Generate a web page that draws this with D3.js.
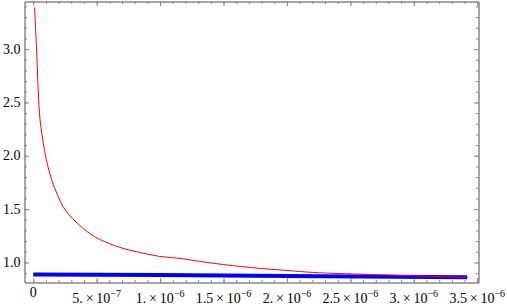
<!DOCTYPE html>
<html>
<head>
<meta charset="utf-8">
<script src="https://cdn.jsdelivr.net/npm/d3@7"></script>
<style>
  body { margin: 0; background: #fff; }
</style>
</head>
<body>
<div id="chart"></div>
<script>
var width = 507;
var height = 308;

// red curve (x, y)
var redX = [1.0e-8, 2.6e-8, 3.9e-8, 5.4e-8, 8.9e-8, 1.13e-7, 1.47e-7, 1.92e-7, 2.53e-7, 3.66e-7,
            4.45e-7, 5.24e-7, 6.82e-7, 8.4e-7, 9.98e-7, 1.157e-6, 1.31e-6, 1.50e-6, 1.79e-6,
            2.0e-6, 2.21e-6, 2.63e-6, 3.43e-6];
var redY = [3.39, 3.0, 2.615, 2.333, 2.05, 1.91, 1.77, 1.63, 1.49, 1.347,
            1.272, 1.216, 1.141, 1.094, 1.056, 1.038, 1.01, 0.98, 0.944,
            0.925, 0.906, 0.888, 0.86];

// blue line (x, y)
var blueX = [0, 1.0e-6, 2.0e-6, 3.42e-6];
var blueY = [0.888, 0.882, 0.874, 0.862];

var xTicks = [0, 5e-7, 1e-6, 1.5e-6, 2e-6, 2.5e-6, 3e-6, 3.5e-6];
var xTickMant = ["0", "5.", "1.", "1.5", "2.", "2.5", "3.", "3.5"];
var xTickExp = ["", "\u22127", "\u22126", "\u22126", "\u22126", "\u22126", "\u22126", "\u22126"];
var yTicks = [1.0, 1.5, 2.0, 2.5, 3.0];
var yTickLabels = ["1.0", "1.5", "2.0", "2.5", "3.0"];

var frameL = 24.5, frameR = 478.5, frameT = 1.5, frameB = 282.5;
var serif = "'Liberation Serif', 'Times New Roman', 'DejaVu Serif', serif";

var x = d3.scaleLinear().domain([-6.9e-8, 3.51e-6]).range([frameL, frameR]);
var y = d3.scaleLinear().domain([0.812, 3.446]).range([frameB, frameT]);

var svg = d3.select('#chart')
            .append('svg')
            .attr('width', width)
            .attr('height', height);

var xMinor = d3.range(0, 36).map(function(i){ return i * 1e-7; });
var yMinor = d3.range(9, 35).map(function(i){ return i / 10; });

var tickColor = "#888";

function styleAxis(g) {
  g.select(".domain").attr("stroke", tickColor);
  g.selectAll(".tick line").attr("stroke", tickColor);
}

// frame axes, ticks pointing inward
function addAxis(axisFn, tx, ty, vals, size) {
  svg.append("g").attr("transform", "translate(" + tx + "," + ty + ")")
     .call(axisFn.tickValues(vals).tickSize(size).tickFormat("").tickSizeOuter(0))
     .call(styleAxis);
}
addAxis(d3.axisTop(x), 0, frameB, xMinor, 2.5);
addAxis(d3.axisTop(x), 0, frameB, xTicks, 4.5);
addAxis(d3.axisBottom(x), 0, frameT, xMinor, 2.5);
addAxis(d3.axisBottom(x), 0, frameT, xTicks, 4.5);
addAxis(d3.axisRight(y), frameL, 0, yMinor, 2.5);
addAxis(d3.axisRight(y), frameL, 0, yTicks, 4.5);
addAxis(d3.axisLeft(y), frameR, 0, yMinor, 2.5);
addAxis(d3.axisLeft(y), frameR, 0, yTicks, 4.5);

// y labels
svg.selectAll(".ylab").data(yTicks).enter().append("text")
   .attr("class", "ylab")
   .attr("x", frameL - 4)
   .attr("y", function(d){ return y(d) + 4.5; })
   .attr("text-anchor", "end")
   .attr("font-family", serif)
   .attr("font-size", 14)
   .text(function(d, i){ return yTickLabels[i]; });

// x labels
var xl = svg.selectAll(".xlab").data(xTicks).enter().append("text")
   .attr("class", "xlab")
   .attr("x", function(d){ return x(d); })
   .attr("y", function(d, i){ return xTickExp[i] ? 303 : 297; })
   .attr("text-anchor", "middle")
   .attr("font-family", serif)
   .attr("font-size", 14);
xl.append("tspan").text(function(d, i){ return xTickExp[i] ? xTickMant[i] + "\u2009\u00d7\u200910" : xTickMant[i]; });
xl.append("tspan")
  .attr("dy", "-6")
  .attr("font-size", 10)
  .text(function(d, i){ return xTickExp[i]; });

var line = d3.line()
             .x(function(d){ return x(d[0]); })
             .y(function(d){ return y(d[1]); });

svg.append("path")
   .datum(blueX.map(function(d, i){ return [d, blueY[i]]; }))
   .attr("fill", "none")
   .attr("stroke", "#0000ff")
   .attr("stroke-width", 4)
   .attr("d", line);

svg.append("path")
   .datum(redX.map(function(d, i){ return [d, redY[i]]; }))
   .attr("fill", "none")
   .attr("stroke", "#ff0000")
   .attr("stroke-width", 1)
   .attr("d", line.curve(d3.curveCatmullRom.alpha(0.5)));
</script>
</body>
</html>
